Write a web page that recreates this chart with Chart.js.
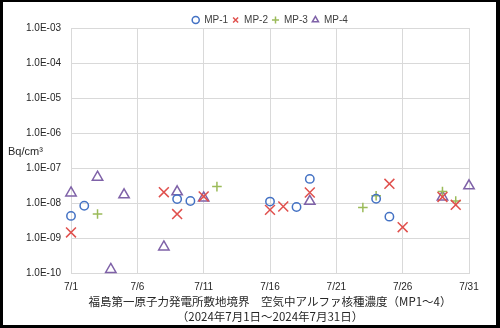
<!DOCTYPE html>
<html>
<head>
<meta charset="utf-8">
<script src="https://cdn.jsdelivr.net/npm/chart.js@4.4.1/dist/chart.umd.min.js"></script>
<style>
    html, body { margin: 0; padding: 0; background: #000; }
    #grafica-container { position: absolute; left: 3px; top: 2px; width: 493px; height: 323px; background: #fff; }
    canvas { display: block; }
</style>
</head>
<body>
<div id="grafica-container"><canvas id="grafica" width="493" height="323"></canvas></div>
<script>
// Ejes
const xTickDays = [1, 6, 11, 16, 21, 26, 31];
const xTickLabels = ['7/1', '7/6', '7/11', '7/16', '7/21', '7/26', '7/31'];
const yTickValues = [1e-10, 1e-9, 1e-8, 1e-7, 1e-6, 1e-5, 1e-4, 1e-3];
const yTickLabels = ['1.0E-10', '1.0E-09', '1.0E-08', '1.0E-07', '1.0E-06', '1.0E-05', '1.0E-04', '1.0E-03'];

// MP-1
const mp1Days = [1, 2, 9, 10, 16, 18, 19, 24, 25];
const mp1Values = [4.3e-9, 8.4e-9, 1.3e-8, 1.15e-8, 1.1e-8, 7.7e-9, 4.9e-8, 1.33e-8, 4.1e-9];
// MP-2
const mp2Days = [1, 8, 9, 11, 16, 17, 19, 25, 26, 29, 30];
const mp2Values = [1.45e-9, 2.05e-8, 4.85e-9, 1.55e-8, 6.4e-9, 8.0e-9, 2.0e-8, 3.55e-8, 2.05e-9, 1.5e-8, 8.9e-9];
// MP-3
const mp3Days = [3, 12, 23, 24, 29, 30];
const mp3Values = [4.85e-9, 2.95e-8, 7.5e-9, 1.62e-8, 2.15e-8, 1.15e-8];
// MP-4
const mp4Days = [1, 3, 4, 5, 8, 9, 11, 19, 29, 31];
const mp4Values = [1.95e-8, 5.5e-8, 1.27e-10, 1.72e-8, 5.6e-10, 2.1e-8, 1.4e-8, 1.12e-8, 1.5e-8, 3.1e-8];

const tituloLineas = [
    '福島第一原子力発電所敷地境界　空気中アルファ核種濃度（MP1～4）',
    '（2024年7月1日～2024年7月31日）'
];

const fuente = "'Liberation Sans', Arial, sans-serif";

function serie(label, days, values, estilo, color, radio) {
    return {
        label: label,
        data: days.map((d, i) => ({ x: d, y: values[i] })),
        pointStyle: estilo,
        pointRadius: radio,
        pointHoverRadius: radio,
        borderColor: color,
        backgroundColor: 'rgba(0,0,0,0)',
        borderWidth: 1.5,
        pointBorderWidth: 1.5,
        showLine: false,
        clip: false
    };
}

// Centra leyenda y título sobre el área del gráfico y dibuja la unidad
const ajusteCajas = {
    id: 'ajusteCajas',
    afterLayout(chart) {
        const a = chart.chartArea;
        const leg = chart.legend;
        leg.left = a.left; leg.right = a.right;
        leg.top += 7; leg.bottom += 7;
        const tit = chart.titleBlock;
        tit.left = a.left; tit.right = a.right;
    },
    afterDraw(chart) {
        const ctx = chart.ctx;
        ctx.save();
        ctx.font = "11px " + fuente;
        ctx.fillStyle = '#262626';
        ctx.textAlign = 'left';
        ctx.textBaseline = 'middle';
        ctx.fillText('Bq/cm³', 5, chart.chartArea.top + 124);
        ctx.restore();
    }
};

const ctx = document.getElementById('grafica').getContext('2d');
new Chart(ctx, {
    type: 'scatter',
    data: {
        datasets: [
            serie('MP-1', mp1Days, mp1Values, 'circle', '#4472C4', 4.2),
            serie('MP-2', mp2Days, mp2Values, 'crossRot', '#E0504D', 7),
            serie('MP-3', mp3Days, mp3Values, 'cross', '#9BBB59', 4.8),
            serie('MP-4', mp4Days, mp4Values, 'triangle', '#7F62A8', 6)
        ]
    },
    options: {
        responsive: false,
        animation: false,
        layout: { padding: { top: 2, right: 27, bottom: 0, left: 0 } },
        plugins: {
            legend: {
                position: 'top',
                labels: {
                    usePointStyle: true,
                    boxWidth: 7,
                    boxHeight: 5,
                    padding: 4,
                    color: '#404040',
                    font: { family: fuente, size: 10 }
                }
            },
            title: {
                display: true,
                position: 'bottom',
                text: tituloLineas,
                color: '#262626',
                font: { family: "'Noto Sans CJK JP', sans-serif", size: 11.5, weight: 'normal', lineHeight: 1.3 },
                padding: { top: 1, bottom: 1 }
            },
            tooltip: { enabled: false }
        },
        scales: {
            x: {
                type: 'linear',
                min: 1,
                max: 31,
                afterBuildTicks: s => { s.ticks = xTickDays.map(v => ({ value: v })); },
                afterFit: s => { s.height = 20; },
                ticks: {
                    autoSkip: false,
                    maxRotation: 0,
                    padding: 8,
                    color: '#262626',
                    font: { family: fuente, size: 10 },
                    callback: (v, i) => xTickLabels[i]
                },
                grid: { color: '#d9d9d9', drawTicks: false },
                border: { color: '#d9d9d9' }
            },
            y: {
                type: 'logarithmic',
                min: 1e-10,
                max: 1e-3,
                afterBuildTicks: s => { s.ticks = yTickValues.map(v => ({ value: v })); },
                afterFit: s => { s.width = 68; },
                ticks: {
                    autoSkip: false,
                    padding: 10,
                    color: '#262626',
                    font: { family: fuente, size: 10 },
                    callback: (v, i) => yTickLabels[i]
                },
                grid: { color: '#d9d9d9', drawTicks: false },
                border: { color: '#d9d9d9' }
            }
        }
    },
    plugins: [ajusteCajas]
});
</script>
</body>
</html>
